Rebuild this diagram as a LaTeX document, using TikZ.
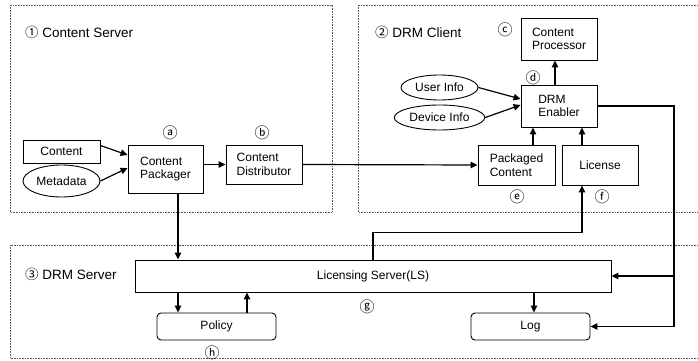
\documentclass[tikz,border=0pt]{standalone}
\usepackage{fontspec}
\setmainfont{Liberation Sans}
\newfontfamily\circfont{Noto Sans CJK KR}
\usetikzlibrary{arrows.meta,shapes.geometric}
\definecolor{frm}{RGB}{90,90,90}

\begin{document}
\begin{tikzpicture}[x=1pt,y=-1pt]
	\tikzset{
		box/.style={%
			draw,
			line width=0.9pt,
			align=left,
			inner sep=2pt,
			font=\fontsize{12}{13.5}\selectfont},
		oval/.style={box, shape=ellipse},
		rbox/.style={box, rounded corners=4pt},
		mark_label/.style={font=\circfont\fontsize{15}{16}\selectfont, inner sep=0pt},
		group_label/.style={anchor=west, font=\fontsize{13.5}{15}\selectfont, inner sep=0pt}
	}
	\tikzstyle{edge_style} = [draw=black, line width=1.2pt, -{Triangle[length=7pt,width=6.5pt]}]
	\tikzstyle{frame_style} = [draw=frm, line width=0.6pt, densely dotted]

	\useasboundingbox (0,0) rectangle (698,361);

	% groups
	\draw[frame_style] (10,5) rectangle (332,212);
	\draw[frame_style] (358,5) rectangle (700,212);
	\draw[frame_style] (10,245) rectangle (700,358);
	\node[group_label] (cs) at (25,32) {{\circfont ①} Content Server};
	\node[group_label] (dc) at (375,32) {{\circfont ②} DRM Client};
	\node[group_label] (ds) at (25,274) {{\circfont ③} DRM Server};

	% content server
	\node[box, minimum width=77pt, minimum height=23pt] (content) at (61.5,151.5) {Content};
	\node[oval, minimum width=77pt, minimum height=32pt] (metadata) at (61.5,181) {Metadata};
	\node[box, minimum width=75pt, minimum height=48pt] (packager) at (165.5,169) {Content\\Packager};
	\node[box, minimum width=76pt, minimum height=39pt] (distributor) at (264,164.5) {Content\\Distributor};

	% drm client
	\node[box, minimum width=76pt, minimum height=42pt] (processor) at (559,39) {Content\\Processor};
	\node[box, minimum width=76pt, minimum height=42pt] (enabler) at (559,106) {DRM\\Enabler};
	\node[oval, minimum width=77pt, minimum height=25pt] (userinfo) at (439.5,87.5) {User Info};
	\node[oval, minimum width=77pt, minimum height=25pt] (deviceinfo) at (439.5,117.5) {Device Info};
	\node[box, minimum width=77pt, minimum height=40pt] (packaged) at (516.5,165) {Packaged\\Content};
	\node[box, minimum width=76pt, minimum height=40pt] (license) at (600,165) {License};

	% drm server
	\node[box, minimum width=476pt, minimum height=32pt, align=center] (ls) at (373,276) {Licensing Server(LS)};
	\node[rbox, minimum width=119pt, minimum height=27pt] (policy) at (216.5,326.5) {Policy};
	\node[rbox, minimum width=119pt, minimum height=27pt] (log) at (530.5,326.5) {Log};

	\node[mark_label] (ma) at (170,133) {ⓐ};
	\node[mark_label] (mb) at (262,133) {ⓑ};
	\node[mark_label] (mc) at (505,30) {ⓒ};
	\node[mark_label] (md) at (533,78) {ⓓ};
	\node[mark_label] (me) at (517,197) {ⓔ};
	\node[mark_label] (mf) at (602,197) {ⓕ};
	\node[mark_label] (mg) at (367,307) {ⓖ};
	\node[mark_label] (mh) at (212,353) {ⓗ};

	\coordinate (rt) at (674,326.5);

	\draw[edge_style] ([yshift=6pt]content.east) -- ([yshift=14pt]packager.west);
	\draw[edge_style] (metadata.east) -- ([yshift=1pt]packager.west);
	\draw[edge_style] (packager.east |- distributor.west) -- (distributor.west);
	\draw[edge_style] (distributor.east) -- (packaged.west);
	\draw[edge_style] ([xshift=-4pt]enabler.north) -- ([xshift=-4pt]processor.south);
	\draw[edge_style] (userinfo.east) -- ([yshift=7pt]enabler.west);
	\draw[edge_style] (deviceinfo.east) -- ([yshift=1pt]enabler.west);
	\draw[edge_style] ([xshift=16.5pt]packaged.north) -- ([xshift=16.5pt]packaged.north |- enabler.south);
	\draw[edge_style] ([xshift=-18pt]license.north) -- ([xshift=-18pt]license.north |- enabler.south);
	\draw[edge_style] (enabler.east) -| (rt) -- (log.east);
	\draw[edge_style] (rt |- ls.east) -- (ls.east);
	\draw[edge_style] ([xshift=12.5pt]packager.south) -- ([xshift=12.5pt]packager.south |- ls.north);
	\draw[edge_style] (ls.north) -- ++(0,-27) -| ([xshift=-18pt]license.south);
	\draw[edge_style] ([xshift=-38.5pt]policy.north |- ls.south) -- ([xshift=-38.5pt]policy.north);
	\draw[edge_style] ([xshift=30.5pt]policy.north) -- ([xshift=30.5pt]policy.north |- ls.south);
	\draw[edge_style] ([xshift=3.5pt]log.north |- ls.south) -- ([xshift=3.5pt]log.north);

\end{tikzpicture}
\end{document}
